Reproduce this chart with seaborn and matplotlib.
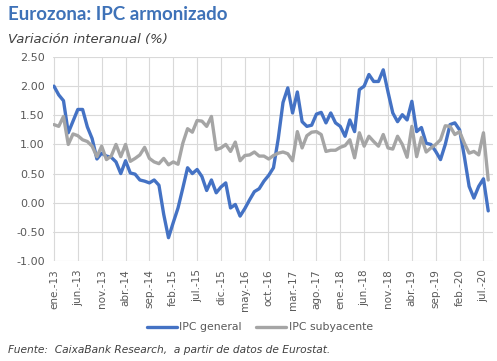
import numpy as np
import pandas as pd
import matplotlib
matplotlib.use("Agg")
import matplotlib.pyplot as plt
import seaborn as sns

# Monthly data, ene.-13 .. ago.-20 (y/y %)
ipc_general = [
    2.00, 1.85, 1.75, 1.20, 1.40, 1.60, 1.60, 1.30, 1.10, 0.75, 0.85, 0.80,   # 2013
    0.78, 0.70, 0.50, 0.72, 0.51, 0.49, 0.39, 0.37, 0.34, 0.39, 0.30, -0.20,  # 2014
    -0.60, -0.34, -0.09, 0.25, 0.60, 0.50, 0.57, 0.45, 0.21, 0.39, 0.17, 0.27,  # 2015
    0.34, -0.09, -0.03, -0.23, -0.10, 0.05, 0.19, 0.24, 0.37, 0.47, 0.60, 1.10,  # 2016
    1.72, 1.97, 1.54, 1.90, 1.39, 1.31, 1.33, 1.52, 1.55, 1.37, 1.54, 1.37,   # 2017
    1.31, 1.14, 1.42, 1.22, 1.94, 2.00, 2.20, 2.08, 2.08, 2.28, 1.90, 1.54,   # 2018
    1.39, 1.51, 1.42, 1.74, 1.22, 1.29, 1.02, 1.00, 0.88, 0.74, 1.00, 1.34,   # 2019
    1.37, 1.25, 0.79, 0.28, 0.08, 0.28, 0.41, -0.14,                          # 2020
]
ipc_subyacente = [
    1.34, 1.31, 1.48, 1.00, 1.18, 1.15, 1.08, 1.05, 0.97, 0.79, 0.97, 0.74,   # 2013
    0.80, 1.00, 0.79, 1.00, 0.71, 0.76, 0.82, 0.95, 0.76, 0.70, 0.67, 0.76,   # 2014
    0.65, 0.70, 0.66, 1.02, 1.27, 1.21, 1.41, 1.40, 1.31, 1.48, 0.91, 0.94,   # 2015
    1.00, 0.88, 1.04, 0.72, 0.81, 0.82, 0.87, 0.80, 0.80, 0.75, 0.81, 0.85,   # 2016
    0.87, 0.84, 0.72, 1.22, 0.94, 1.15, 1.21, 1.22, 1.17, 0.88, 0.90, 0.90,   # 2017
    0.95, 0.98, 1.08, 0.77, 1.20, 0.97, 1.14, 1.05, 0.97, 1.17, 0.94, 0.92,   # 2018
    1.14, 1.00, 0.78, 1.31, 0.79, 1.12, 0.87, 0.94, 1.00, 1.08, 1.32, 1.31,   # 2019
    1.17, 1.22, 1.02, 0.85, 0.88, 0.82, 1.20, 0.39,                           # 2020
]
tick_labels = ["ene.-13", "jun.-13", "nov.-13", "abr.-14", "sep.-14", "feb.-15",
               "jul.-15", "dic.-15", "may.-16", "oct.-16", "mar.-17", "ago.-17",
               "ene.-18", "jun.-18", "nov.-18", "abr.-19", "sep.-19", "feb.-20",
               "jul.-20"]
y_ticks = [-1.0, -0.5, 0.0, 0.5, 1.0, 1.5, 2.0, 2.5]

mes = np.arange(len(ipc_general))
df = pd.DataFrame({"mes": mes, "IPC general": ipc_general,
                   "IPC subyacente": ipc_subyacente})
long = df.melt(id_vars="mes", var_name="serie", value_name="valor")

sns.set_style("white")
plt.rcParams["font.family"] = ["DejaVu Sans"]

BLUE = "#4472C4"
GREY = "#A5A5A5"
TXT = "#595959"

fig = plt.figure(figsize=(4.97, 3.61), dpi=100)
ax = fig.add_axes([53 / 497, 1 - 261 / 361, 440 / 497, 204 / 361])

sns.lineplot(data=long, x="mes", y="valor", hue="serie",
             palette={"IPC general": BLUE, "IPC subyacente": GREY},
             linewidth=2.4, ax=ax)

ax.set_xlim(-0.2, 92)
ax.set_ylim(-1.0, 2.5)
ax.set_xticks(mes[::5])
ax.set_xticklabels(tick_labels, rotation=90, fontsize=7.5, color=TXT)
ax.set_yticks(y_ticks)
ax.set_yticklabels([f"{v:.2f}" for v in y_ticks], fontsize=8, color=TXT)
ax.tick_params(length=0, pad=6)
ax.grid(True, color="#D9D9D9", linewidth=0.8)
ax.set_axisbelow(True)
ax.set_xlabel("")
ax.set_ylabel("")
for s in ax.spines.values():
    s.set_visible(False)

sns.move_legend(ax, "center", bbox_to_anchor=(0.47, -0.325), ncol=2,
                frameon=False, title=None, fontsize=7.8, handlelength=2.8,
                handletextpad=0.2, columnspacing=1.3)
for t in ax.get_legend().get_texts():
    t.set_color(TXT)

fig.text(8 / 497, 1 - 15 / 361, "Eurozona: IPC armonizado", fontsize=13.5,
         fontweight="bold", color="#3E72B8", family="Lato", va="center")
fig.text(8 / 497, 1 - 39 / 361, "Variación interanual (%)", fontsize=9.5,
         style="italic", color="#404040", va="center")
fig.text(8 / 497, 1 - 350 / 361,
         "Fuente:  CaixaBank Research,  a partir de datos de Eurostat.",
         fontsize=7.7, style="italic", color="#404040", va="center")

fig.savefig("out.png", dpi=100)
